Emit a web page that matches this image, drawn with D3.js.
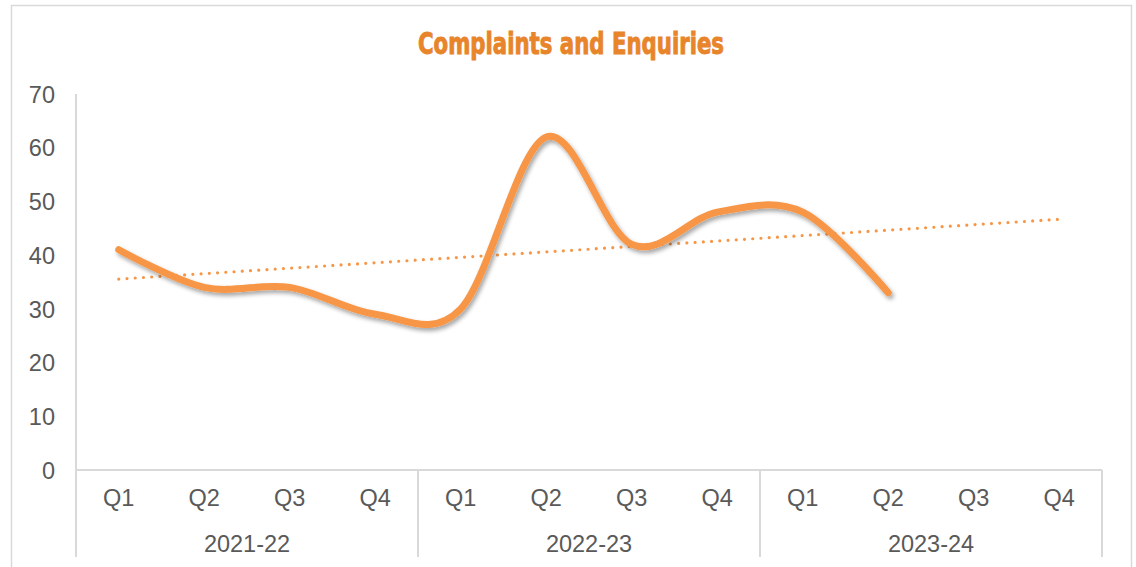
<!DOCTYPE html>
<html>
<head>
<meta charset="utf-8">
<script src="https://cdn.jsdelivr.net/npm/d3@7"></script>
<style>
    body { margin: 0; background: #fff; }
    svg { display: block; }
    .tick-label { font-family: "Liberation Sans", Arial, sans-serif; font-size: 23.5px; fill: #595959; }
</style>
</head>
<body>
<div id="container"></div>
<script>
"use strict";

const WIDTH = 1136;
const HEIGHT = 567;

const YEARS = ["2021-22", "2022-23", "2023-24"];
const QUARTERS = ["Q1", "Q2", "Q3", "Q4"];
const VALUES = [41, 34, 34, 29, 30, 62, 42, 48, 48, 33, null, null];
const Y_TICKS = [0, 10, 20, 30, 40, 50, 60, 70];
const TITLE = "Complaints and Enquiries";

const LINE_COLOR = "#F79646";
const AXIS_COLOR = "#D9D9D9";

const PLOT = { left: 76, right: 1102, top: 94, bottom: 470 };

const SVG = d3.select("#container").append("svg")
    .attr("width", WIDTH)
    .attr("height", HEIGHT);

const categories = [];
YEARS.forEach(y => QUARTERS.forEach(q => categories.push(y + "|" + q)));

const data = categories.map((c, i) => ({ key: c, value: VALUES[i], index: i }));

const xScale = d3.scaleBand()
    .domain(categories)
    .range([PLOT.left, PLOT.right]);

const yScale = d3.scaleLinear()
    .domain([0, 70])
    .range([PLOT.bottom, PLOT.top]);

// drop shadow for the main series
const defs = SVG.append("defs");
defs.append("filter")
    .attr("id", "shadow")
    .attr("x", "-10%").attr("y", "-10%")
    .attr("width", "120%").attr("height", "130%")
    .append("feDropShadow")
    .attr("dx", 2).attr("dy", 3)
    .attr("stdDeviation", 2)
    .attr("flood-color", "#000")
    .attr("flood-opacity", 0.35);

// chart area border
SVG.append("rect")
    .attr("x", 11.5).attr("y", 5.5)
    .attr("width", 1120).attr("height", 600)
    .attr("fill", "none")
    .attr("stroke", AXIS_COLOR)
    .attr("stroke-width", 1.5);

SVG.append("text")
    .attr("x", 571).attr("y", 54)
    .attr("text-anchor", "middle")
    .attr("font-family", "Impact, 'DejaVu Sans Condensed', 'Liberation Sans Narrow', sans-serif")
    .attr("font-weight", "bold")
    .attr("font-size", 30)
    .attr("fill", "#E8842A")
    .attr("stroke", "#E8842A")
    .attr("stroke-width", 0.9)
    .attr("textLength", 306)
    .attr("lengthAdjust", "spacingAndGlyphs")
    .text(TITLE);

// y axis
const yAxis = d3.axisLeft(yScale).tickValues(Y_TICKS).tickSize(0).tickPadding(21);
const yG = SVG.append("g")
    .attr("transform", `translate(${PLOT.left},0)`)
    .call(yAxis);
yG.select(".domain").remove();
yG.selectAll("text").attr("class", "tick-label").attr("dy", "0.35em");

SVG.append("line")
    .attr("x1", PLOT.left).attr("x2", PLOT.left)
    .attr("y1", PLOT.top).attr("y2", 557)
    .attr("stroke", AXIS_COLOR).attr("stroke-width", 2);

// x axis (quarters)
const xAxis = d3.axisBottom(xScale).tickSize(0).tickPadding(20)
    .tickFormat(d => d.split("|")[1]);
const xG = SVG.append("g")
    .attr("transform", `translate(0,${PLOT.bottom})`)
    .call(xAxis);
xG.select(".domain").remove();
xG.selectAll("text").attr("class", "tick-label").attr("dy", "0.35em").attr("y", 28);

SVG.append("line")
    .attr("x1", PLOT.left).attr("x2", PLOT.right)
    .attr("y1", PLOT.bottom).attr("y2", PLOT.bottom)
    .attr("stroke", AXIS_COLOR).attr("stroke-width", 2);

// year groups
YEARS.forEach(function (year, i) {
    const first = xScale(year + "|" + QUARTERS[0]);
    const last = xScale(year + "|" + QUARTERS[QUARTERS.length - 1]) + xScale.bandwidth();

    SVG.append("line")
        .attr("x1", last).attr("x2", last)
        .attr("y1", PLOT.bottom).attr("y2", 557)
        .attr("stroke", AXIS_COLOR).attr("stroke-width", 2);

    SVG.append("text")
        .attr("class", "tick-label")
        .attr("x", (first + last) / 2)
        .attr("y", 544)
        .attr("dy", "0.35em")
        .attr("text-anchor", "middle")
        .text(year);
});

// linear trendline over the known values
const known = data.filter(d => d.value !== null);
const mx = d3.mean(known, d => d.index);
const my = d3.mean(known, d => d.value);
const slope = d3.sum(known, d => (d.index - mx) * (d.value - my)) /
    d3.sum(known, d => (d.index - mx) * (d.index - mx));
const intercept = my - slope * mx;

const cx = d => xScale(d.key) + xScale.bandwidth() / 2;

const trend = [data[0], data[data.length - 1]];
SVG.append("path")
    .attr("d", d3.line()
        .x(cx)
        .y(d => yScale(intercept + slope * d.index))(trend))
    .attr("fill", "none")
    .attr("stroke", LINE_COLOR)
    .attr("stroke-width", 3.2)
    .attr("stroke-linecap", "round")
    .attr("stroke-dasharray", "0 8.25");

// main series
SVG.append("path")
    .attr("d", d3.line()
        .defined(d => d.value !== null)
        .curve(d3.curveCatmullRom.alpha(0))
        .x(cx)
        .y(d => yScale(d.value))(data))
    .attr("fill", "none")
    .attr("stroke", LINE_COLOR)
    .attr("stroke-width", 7)
    .attr("stroke-linecap", "round")
    .attr("stroke-linejoin", "round")
    .attr("filter", "url(#shadow)");
</script>
</body>
</html>
